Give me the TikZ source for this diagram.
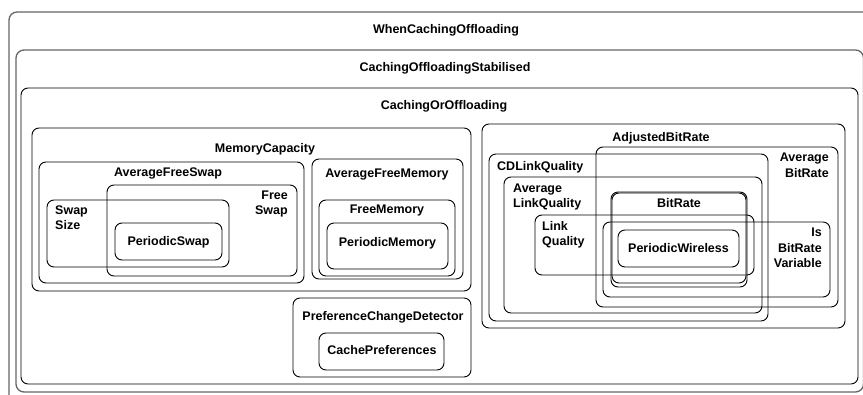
\documentclass[tikz,border=0pt]{standalone}
\usepackage{fontspec}
\setmainfont{Liberation Sans}
\begin{document}
\begin{tikzpicture}[x=1pt,y=-1pt,
  outerbox/.style={draw=black!60,line width=1.3pt,rounded corners=8pt},
  box/.style={draw=black,line width=0.9pt,rounded corners=7pt},
  lab/.style={inner sep=0pt,font=\fontsize{12.5}{15}\selectfont\bfseries},
  ctr/.style={lab,anchor=base},
  lft/.style={lab,anchor=base west},
  rgt/.style={lab,anchor=base east}]
\useasboundingbox (0,0) rectangle (863,395);
\clip (0,0) rectangle (863,395);
% outer boxes
\draw[outerbox] (9,12) rectangle (880,420);
\draw[outerbox] (16,50) rectangle (863.5,392);
\draw[box] (21,88) rectangle (858,384);
\node[ctr] (t1) at (446,33.5) {WhenCachingOffloading};
\node[ctr] (t2) at (445,71.5) {CachingOffloadingStabilised};
\node[ctr] (t3) at (444,109.5) {CachingOrOffloading};
% memory capacity
\draw[box] (32,128) rectangle (471,291);
\node[ctr] (mc) at (265,152.5) {MemoryCapacity};
\draw[box] (39,162) rectangle (304,283);
\node[ctr] (afs) at (168,177) {AverageFreeSwap};
\draw[box] (107,185) rectangle (297,276);
\node[rgt] (fs1) at (288,200) {Free};
\node[rgt] (fs2) at (288,215) {Swap};
\draw[box] (47,200) rectangle (229,267);
\node[lft] (ss1) at (55,215) {Swap};
\node[lft] (ss2) at (55,230) {Size};
\draw[box] (115,223) rectangle (222,260);
\node[ctr] (ps) at (168.5,246) {PeriodicSwap};
\draw[box] (312,159) rectangle (463,279);
\node[ctr] (afm) at (387,178) {AverageFreeMemory};
\draw[box] (319,200) rectangle (455,276);
\node[ctr] (fm) at (387,214) {FreeMemory};
\draw[box] (327,223) rectangle (448,269);
\node[ctr] (pm) at (387.5,247) {PeriodicMemory};
% preference
\draw[box] (293,298) rectangle (471,377);
\node[ctr] (pcd) at (383,321) {PreferenceChangeDetector};
\draw[box] (319,333) rectangle (444,370);
\node[ctr] (cp) at (382,355) {CachePreferences};
% bit rate side
\draw[box] (482,124) rectangle (845,328);
\node[ctr] (abr) at (661,142) {AdjustedBitRate};
\draw[box] (596,147) rectangle (838,307);
\node[rgt] (avb1) at (829,162) {Average};
\node[rgt] (avb2) at (829,178) {BitRate};
\draw[box] (489,154) rectangle (768,321);
\node[lft] (cdl) at (497,171) {CDLinkQuality};
\draw[box] (504,177) rectangle (762,313);
\node[lft] (alq1) at (513,193) {Average};
\node[lft] (alq2) at (513,208) {LinkQuality};
\draw[box] (611,192) rectangle (747,287);
\draw[box] (612,193) rectangle (746,283);
\node[ctr] (br) at (679,208) {BitRate};
\draw[box] (535,215) rectangle (754,275);
\node[lft] (lq1) at (542,231) {Link};
\node[lft] (lq2) at (542,246) {Quality};
\draw[box] (603,222) rectangle (830,297);
\node[rgt] (ibv1) at (822,237) {Is};
\node[rgt] (ibv2) at (822,252.5) {BitRate};
\node[rgt] (ibv3) at (822,267.5) {Variable};
\draw[box] (618,230) rectangle (739,267);
\node[ctr] (pw) at (678.5,253) {PeriodicWireless};
\end{tikzpicture}
\end{document}
